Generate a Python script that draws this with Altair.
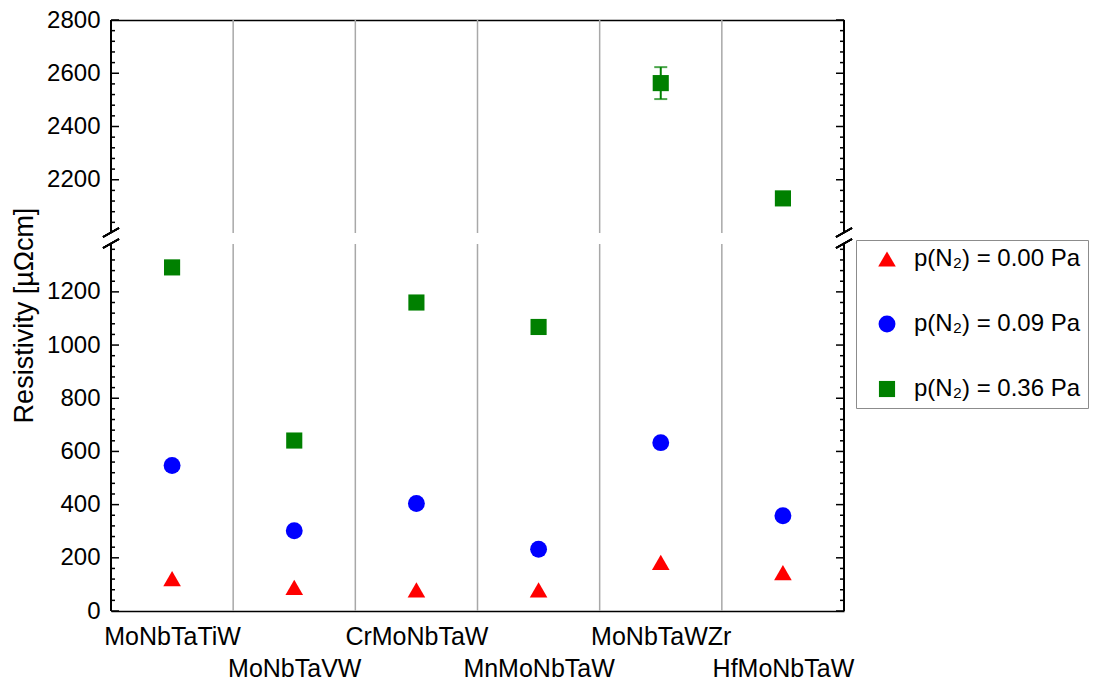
import altair as alt
import pandas as pd

# ---- data ----
alloys = ["MoNbTaTiW", "MoNbTaVW", "CrMoNbTaW", "MnMoNbTaW", "MoNbTaWZr", "HfMoNbTaW"]
series = ["p(N\u2082) = 0.00 Pa", "p(N\u2082) = 0.09 Pa", "p(N\u2082) = 0.36 Pa"]
rho_000 = [122, 89, 79, 79, 183, 144]
rho_009 = [547, 302, 404, 232, 633, 358]
rho_036 = [1292, 641, 1160, 1068, 2563, 2130]
err_000 = [0, 0, 0, 0, 0, 0]
err_009 = [0, 0, 0, 0, 0, 0]
err_036 = [12, 8, 22, 8, 60, 8]

shapes = ["triangle-up", "circle", "square"]
colors = ["#ff0000", "#0000ff", "#008000"]
sizes = [310, 260, 250]

lower_major = [0, 200, 400, 600, 800, 1000, 1200]
lower_minor = [v for v in range(40, 1380, 40) if v % 200 != 0]
upper_major = [2200, 2400, 2600, 2800]
upper_minor = [v for v in range(2040, 2800, 40) if v % 200 != 0]

rows = []
for s, vals, errs in zip(series, [rho_000, rho_009, rho_036], [err_000, err_009, err_036]):
    for i, (a, v, e) in enumerate(zip(alloys, vals, errs)):
        rows.append({"alloy": a, "idx": i, "series": s, "value": v, "err": e})
df = pd.DataFrame(rows)
sep_df = pd.DataFrame({"pos": [i + 0.5 for i in range(len(alloys) - 1)]})

FONT = "Liberation Sans"
W = 733
names_js = "[" + ",".join("'%s'" % a for a in alloys) + "]"
label_expr = (
    f"datum.value % 2 == 1 ? ['', {names_js}[datum.value]] : {names_js}[datum.value]"
)

legend = alt.Legend(
    title=None, orient="none", legendX=745, legendY=220,
    labelFontSize=24, labelFont=FONT, labelColor="black", labelLimit=400,
    strokeColor="#8c8c8c", fillColor="white", padding=7,
    rowPadding=41, labelOffset=15, symbolOffset=12, symbolStrokeWidth=0,
)


def panel(dmin, dmax, height, major, minor, is_lower):
    xs = alt.Scale(domain=[-0.5, len(alloys) - 0.5], nice=False, zero=False)
    ys = alt.Scale(domain=[dmin, dmax], nice=False, zero=False)

    if is_lower:
        xaxis = alt.Axis(
            orient="bottom", values=list(range(len(alloys))), labelExpr=label_expr,
            labelFontSize=25, labelFont=FONT, labelColor="black", labelPadding=13,
            labelLineHeight=32, ticks=False, grid=False, domain=True,
            domainColor="black", domainWidth=1.5, title=None, labelAngle=0,
            labelFlush=False, labelOverlap=False,
        )
        yaxis = alt.Axis(
            orient="left", ticks=False, values=major, format="d", labelFontSize=24,
            labelFont=FONT, labelColor="black", labelPadding=11, domain=False,
            grid=False, title="Resistivity [\u00b5\u03a9cm]", titleFontSize=27,
            titleFont=FONT, titleFontWeight="normal", titleColor="black",
            titleY=71, titlePadding=8,
        )
    else:
        xaxis = alt.Axis(
            orient="top", labels=False, ticks=False, grid=False, domain=True,
            domainColor="black", domainWidth=1.5, title=None,
        )
        yaxis = alt.Axis(
            orient="left", ticks=False, values=major, format="d", labelFontSize=24,
            labelFont=FONT, labelColor="black", labelPadding=11, domain=False,
            grid=False, title=None,
        )

    filt = alt.Chart(df).transform_filter(
        f"datum.value >= {dmin} && datum.value <= {dmax}"
    )
    X = lambda f: alt.X(f, scale=xs, axis=xaxis)
    Y = lambda f: alt.Y(f, scale=ys, axis=yaxis)

    seps = alt.Chart(sep_df).mark_rule(color="#a8a8a8", strokeWidth=1.5).encode(
        x=X("pos:Q")
    )

    def vline(xp):
        return alt.Chart(sep_df).mark_rule(color="black", strokeWidth=1.5).encode(
            x=alt.value(xp), y=alt.value(0), y2=alt.value(height)
        )

    maj_df = pd.DataFrame({"t": major})
    min_df = pd.DataFrame({"t": minor})

    def ticks(d, x1, x2):
        return alt.Chart(d).mark_rule(color="black", strokeWidth=1.5).encode(
            y=Y("t:Q"), x=alt.value(x1), x2=alt.value(x2)
        )

    errf = filt.transform_filter("datum.err > 0").transform_calculate(
        lo="datum.value - datum.err", hi="datum.value + datum.err"
    )
    err_rule = errf.mark_rule(color="#008000", strokeWidth=2).encode(
        x=X("idx:Q"), y=Y("lo:Q"), y2="hi:Q"
    )
    caps = errf.transform_fold(["lo", "hi"], as_=["k", "cap"]).mark_tick(
        orient="horizontal", size=13, thickness=2, color="#008000"
    ).encode(x=X("idx:Q"), y=Y("cap:Q"))

    pts = filt.mark_point(filled=True, opacity=1).encode(
        x=X("idx:Q"),
        y=Y("value:Q"),
        color=alt.Color("series:N", scale=alt.Scale(domain=series, range=colors), legend=legend),
        shape=alt.Shape("series:N", scale=alt.Scale(domain=series, range=shapes), legend=legend),
        size=alt.Size("series:N", scale=alt.Scale(domain=series, range=sizes), legend=legend),
    )

    layers = [
        seps, vline(0), vline(W),
        ticks(maj_df, 0, 8), ticks(min_df, 0, 4),
        ticks(maj_df, W - 8, W), ticks(min_df, W - 4, W),
        err_rule, caps, pts,
    ]
    # break marks
    if is_lower:
        brk = [(-8, 4, 8, -5), (W - 8, 4, W + 8, -5)]
    else:
        brk = [(-8, height + 4, 8, height - 5), (W - 8, height + 4, W + 8, height - 5)]
    for (x1, y1, x2, y2) in brk:
        layers.append(
            alt.Chart(sep_df).mark_rule(color="black", strokeWidth=1.5).encode(
                x=alt.value(x1), y=alt.value(y1), x2=alt.value(x2), y2=alt.value(y2)
            )
        )
    return alt.layer(*layers).properties(width=W, height=height)


upper = panel(2000, 2800, 213, upper_major, upper_minor, False)
lower = panel(0, 1380, 367, lower_major, lower_minor, True)

chart = alt.vconcat(upper, lower, spacing=11, bounds="flush").properties(
    padding={"left": 2, "top": 0, "right": 0, "bottom": 0},
    background="white",
).configure_view(stroke=None)

chart.save("out.html", embed_options={"renderer": "svg", "actions": False})
